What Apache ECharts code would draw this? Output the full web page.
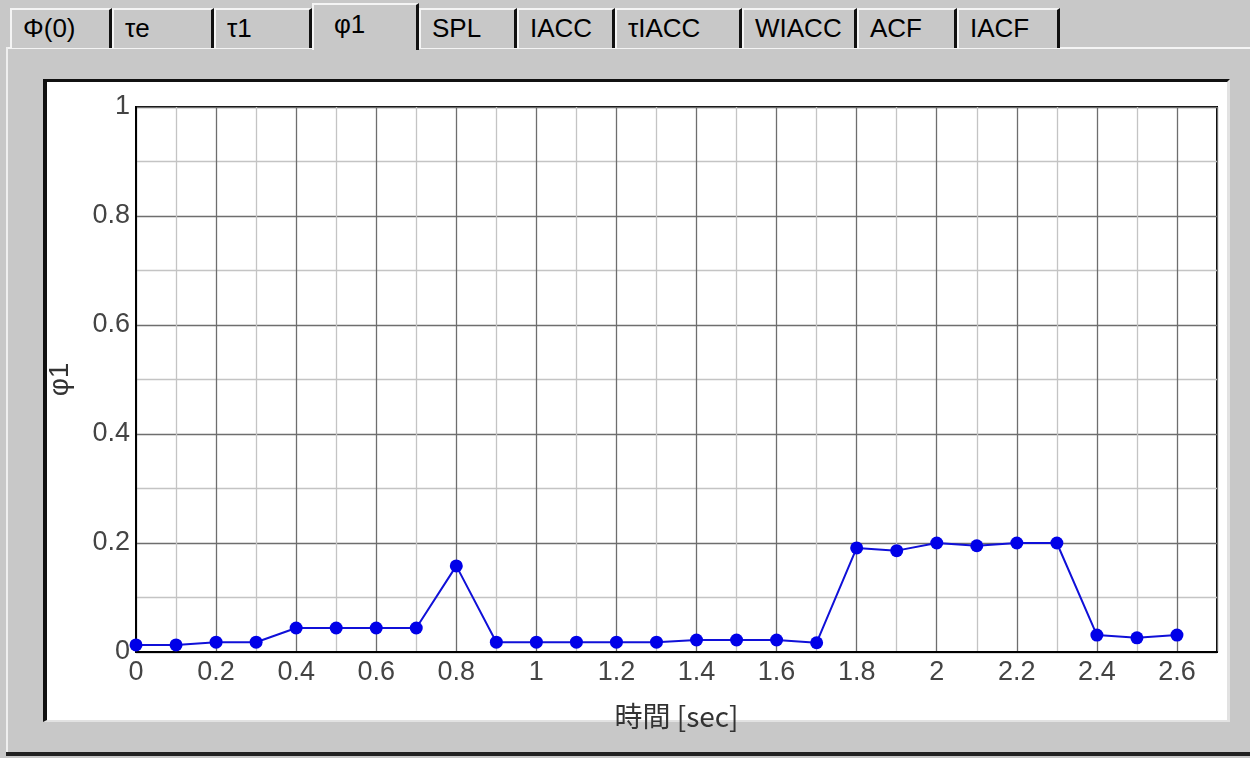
<!DOCTYPE html>
<html>
<head>
<meta charset="utf-8">
<script src="https://cdn.jsdelivr.net/npm/echarts@6/dist/echarts.min.js"></script>
<style>
  html, body { margin:0; padding:0; width:1250px; height:758px; overflow:hidden; background:#c8c8c8; }
  .tab { position:absolute; box-sizing:border-box; background:#c8c8c8; border-top:2px solid #f4f4f4; border-left:2px solid #f4f4f4; border-right:3px solid #111; font-family:"Liberation Sans Narrow","Liberation Sans",sans-serif; font-size:26px; color:#000; line-height:36px; padding-left:11px; white-space:nowrap; overflow:hidden; }
  .tab.sel { border-right:3px solid #111; z-index:2; }
  #panelTop { position:absolute; left:6px; top:47px; width:1244px; height:2px; background:#f4f4f4; }
  #panelLeft { position:absolute; left:6px; top:47px; width:2px; height:706px; background:#efefef; }
  #panelBottom { position:absolute; left:6px; top:752px; width:1244px; height:4px; background:#222; }
  #white { position:absolute; left:43px; top:79px; width:1187px; height:643px; box-sizing:border-box; background:#fff; border-left:4px solid #111; border-top:3px solid #111; border-right:3px solid #e2e2e2; border-bottom:2px solid #e2e2e2; }
  #chart { position:absolute; left:0; top:0; width:1250px; height:758px; }
</style>
</head>
<body>
<div id="panelTop"></div>
<div id="panelLeft"></div>
<div id="panelBottom"></div>
<div id="tabs"></div>
<div id="white"></div>
<div id="chart"></div>
<script>
// ---- data ----
const tabLabels = ["Φ(0)", "τe", "τ1", "φ1", "SPL", "IACC", "τIACC", "WIACC", "ACF", "IACF"];
const selectedTab = "φ1";
const times = [0,0.1,0.2,0.3,0.4,0.5,0.6,0.7,0.8,0.9,1.0,1.1,1.2,1.3,1.4,1.5,1.6,1.7,1.8,1.9,2.0,2.1,2.2,2.3,2.4,2.5,2.6];
const phi1  = [0.013,0.013,0.018,0.018,0.044,0.044,0.044,0.044,0.158,0.018,0.018,0.018,0.018,0.018,0.022,0.022,0.022,0.017,0.191,0.186,0.2,0.195,0.2,0.2,0.031,0.026,0.031];
const xAxisName = "時間 [sec]";
const yAxisName = "φ1";

// ---- tabs (layout) ----
const tabEdges = [10,112,214,312,419,517,615,742,857,957,1060];
const tabsDiv = document.getElementById('tabs');
tabLabels.forEach((t,i)=>{
  const d = document.createElement('div');
  d.className = 'tab' + (t===selectedTab ? ' sel' : '');
  d.textContent = t;
  const sel = t===selectedTab;
  d.style.left = tabEdges[i] + 'px';
  d.style.width = (tabEdges[i+1]-tabEdges[i]) + 'px';
  d.style.top = (sel ? 3 : 8) + 'px';
  d.style.height = (sel ? 47 : 40) + 'px';
  if (sel) { d.style.paddingLeft = '20px'; d.style.lineHeight='38px'; }
  tabsDiv.appendChild(d);
});

// ---- chart ----
const font = '"Liberation Sans Narrow","Liberation Sans",sans-serif';
const chart = echarts.init(document.getElementById('chart'), null, {renderer:'canvas'});
chart.setOption({
  animation:false,
  backgroundColor:'transparent',
  grid:{ left:136, top:107, right:33, bottom:106, show:true, borderColor:'#000', borderWidth:2, containLabel:false },
  xAxis:{
    type:'value', min:0, max:2.7, interval:0.2,
    name:xAxisName, nameLocation:'middle', nameGap:50,
    nameTextStyle:{ fontFamily:'"Noto Sans CJK JP",sans-serif', fontSize:28, color:'#333' },
    axisLine:{ show:true, lineStyle:{ color:'#000', width:2 } },
    axisTick:{ show:false },
    axisLabel:{ color:'#444', fontSize:27, fontFamily:font, margin:7, showMaxLabel:false,
      formatter:v=>String(Math.round(v*10)/10) },
    splitLine:{ show:true, lineStyle:{ color:'#6e6e6e', width:1.3 } },
    minorTick:{ show:false, splitNumber:2 },
    minorSplitLine:{ show:true, lineStyle:{ color:'#c4c4c4', width:1.3 } }
  },
  yAxis:{
    type:'value', min:0, max:1, interval:0.2,
    name:yAxisName, nameLocation:'middle', nameGap:62, nameRotate:90,
    nameTextStyle:{ fontFamily:font, fontSize:28, color:'#333' },
    axisLine:{ show:true, lineStyle:{ color:'#000', width:2 } },
    axisTick:{ show:false },
    axisLabel:{ color:'#444', fontSize:27, fontFamily:font, margin:6,
      formatter:v=>String(Math.round(v*10)/10) },
    splitLine:{ show:true, lineStyle:{ color:'#6e6e6e', width:1.3 } },
    minorTick:{ show:false, splitNumber:2 },
    minorSplitLine:{ show:true, lineStyle:{ color:'#c4c4c4', width:1.3 } }
  },
  series:[{
    type:'line',
    data: times.map((t,i)=>[t, phi1[i]]),
    symbol:'circle', symbolSize:13,
    itemStyle:{ color:'#0000e8' },
    lineStyle:{ color:'#1010d8', width:2 },
    clip:false
  }]
});
</script>
</body>
</html>
